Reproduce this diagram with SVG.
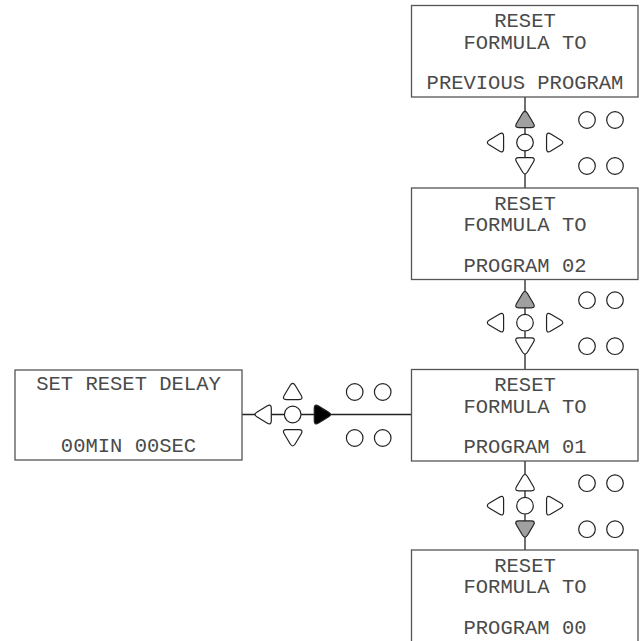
<svg xmlns="http://www.w3.org/2000/svg" xmlns:xlink="http://www.w3.org/1999/xlink" width="643" height="641" viewBox="0 0 643 641">
<style>
.box{fill:#fff;stroke:#555;stroke-width:1.3}
.txt{font-family:"Liberation Mono","Courier New",monospace;font-size:20.5px;fill:#4a4a4a;text-anchor:middle}
.conn{stroke:#222;stroke-width:1.3;fill:none}
.key{fill:#fff;stroke:#222;stroke-width:1.2}
.gray{fill:#a0a0a0}
.black{fill:#000}
</style>
<defs>
<path id="tri" d="M-2.6,-5.4 Q0,-9.8 2.6,-5.4 L8.4,4.4 Q11,8.7 6.2,8.7 L-6.2,8.7 Q-11,8.7 -8.4,4.4 Z"/>
<g id="dots">
<circle cx="62" cy="-22.5" r="8.3"/>
<circle cx="90" cy="-22.5" r="8.3"/>
<circle cx="62" cy="23.5" r="8.3"/>
<circle cx="90" cy="23.5" r="8.3"/>
<circle cx="0" cy="0" r="8.3"/>
</g>
</defs>
<rect width="643" height="641" fill="#fff"/>
<g id="connectors">
<line class="conn" x1="525" y1="97" x2="525" y2="641"/>
<line class="conn" x1="242" y1="414.5" x2="411.5" y2="414.5"/>
</g>
<g id="node-previous">
<rect class="box" x="411.5" y="5.5" width="226.5" height="91.5"/>
<text class="txt" x="525" y="27">RESET</text>
<text class="txt" x="525" y="48.5">FORMULA TO</text>
<text class="txt" x="525" y="89">PREVIOUS PROGRAM</text>
</g>
<g id="node-02">
<rect class="box" x="411.5" y="188" width="226.5" height="91.5"/>
<text class="txt" x="525" y="209.5">RESET</text>
<text class="txt" x="525" y="231">FORMULA TO</text>
<text class="txt" x="525" y="271.5">PROGRAM 02</text>
</g>
<g id="node-01">
<rect class="box" x="411.5" y="369.5" width="226.5" height="91.5"/>
<text class="txt" x="525" y="391">RESET</text>
<text class="txt" x="525" y="412.5">FORMULA TO</text>
<text class="txt" x="525" y="453">PROGRAM 01</text>
</g>
<g id="node-00">
<rect class="box" x="411.5" y="550" width="226.5" height="95"/>
<text class="txt" x="525" y="571.5">RESET</text>
<text class="txt" x="525" y="593">FORMULA TO</text>
<text class="txt" x="525" y="634">PROGRAM 00</text>
</g>
<g id="node-delay">
<rect class="box" x="15" y="370" width="227" height="90"/>
<text class="txt" x="128.5" y="390">SET RESET DELAY</text>
<text class="txt" x="128.5" y="452">00MIN 00SEC</text>
</g>
<g id="keypad-1" class="key" transform="translate(525,142.5)">
<use xlink:href="#dots"/>
<use xlink:href="#tri" class="gray" transform="translate(0,-23.6)"/>
<use xlink:href="#tri" transform="translate(0,23.9) rotate(180)"/>
<use xlink:href="#tri" transform="translate(-30.1,0) rotate(-90)"/>
<use xlink:href="#tri" transform="translate(30.25,0) rotate(90)"/>
</g>
<g id="keypad-2" class="key" transform="translate(525,322.7)">
<use xlink:href="#dots"/>
<use xlink:href="#tri" class="gray" transform="translate(0,-23.6)"/>
<use xlink:href="#tri" transform="translate(0,23.9) rotate(180)"/>
<use xlink:href="#tri" transform="translate(-30.1,0) rotate(-90)"/>
<use xlink:href="#tri" transform="translate(30.25,0) rotate(90)"/>
</g>
<g id="keypad-3" class="key" transform="translate(525,505.7)">
<use xlink:href="#dots"/>
<use xlink:href="#tri" transform="translate(0,-23.6)"/>
<use xlink:href="#tri" class="gray" transform="translate(0,23.9) rotate(180)"/>
<use xlink:href="#tri" transform="translate(-30.1,0) rotate(-90)"/>
<use xlink:href="#tri" transform="translate(30.25,0) rotate(90)"/>
</g>
<g id="keypad-4" class="key" transform="translate(292.7,414.5)">
<use xlink:href="#dots"/>
<use xlink:href="#tri" transform="translate(0,-23.6)"/>
<use xlink:href="#tri" transform="translate(0,23.9) rotate(180)"/>
<use xlink:href="#tri" transform="translate(-30.1,0) rotate(-90)"/>
<use xlink:href="#tri" class="black" transform="translate(30.25,0) rotate(90)"/>
</g>
</svg>
